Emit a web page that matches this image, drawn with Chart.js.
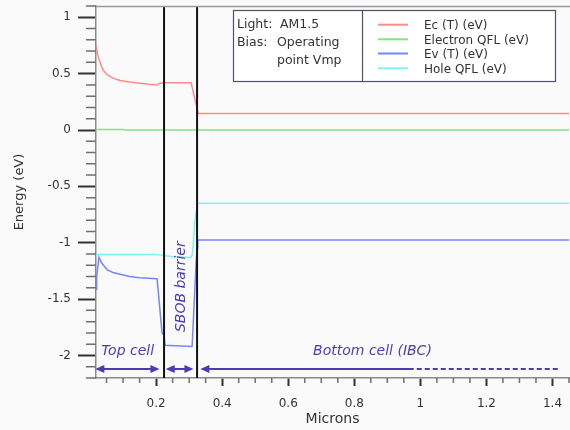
<!DOCTYPE html>
<html>
<head>
<meta charset="utf-8">
<script src="https://cdn.jsdelivr.net/npm/chart.js@4.4.1/dist/chart.umd.min.js"></script>
<style>
html, body { margin:0; padding:0; background:#fafafa; }
#wrap { width:570px; height:430px; }
</style>
</head>
<body>
<div id="wrap"><canvas id="bandChart" width="570" height="430"></canvas></div>
<script>
/* ================= DATA ================= */

// conduction band edge
const ecX = [0.018, 0.022, 0.026, 0.03, 0.04, 0.052, 0.07, 0.091, 0.12, 0.15, 0.18, 0.203, 0.212, 0.22, 0.306, 0.324, 0.327, 1.45];
const ecY = [0.76, 0.68, 0.64, 0.60, 0.53, 0.49, 0.46, 0.44, 0.425, 0.415, 0.405, 0.40, 0.415, 0.42, 0.42, 0.19, 0.147, 0.147];

// electron quasi fermi level
const efnX = [0.018, 0.10, 0.105, 1.45];
const efnY = [0.005, 0.005, 0.0, 0.0];

// valence band edge
const evX = [0.018, 0.019, 0.021, 0.027, 0.035, 0.052, 0.07, 0.091, 0.12, 0.15, 0.203, 0.218, 0.224, 0.227, 0.309, 0.321, 0.324, 0.326, 1.45];
const evY = [-1.30, -1.42, -1.30, -1.13, -1.18, -1.24, -1.265, -1.28, -1.30, -1.31, -1.32, -1.80, -1.82, -1.91, -1.92, -1.18, -1.05, -0.975, -0.975];

// hole quasi fermi level
const efpX = [0.018, 0.20, 0.215, 0.25, 0.305, 0.31, 0.318, 0.325, 1.45];
const efpY = [-1.105, -1.105, -1.11, -1.125, -1.13, -1.10, -0.80, -0.65, -0.65];

// layer interfaces
const interfaceX = [0.224, 0.324];

const seriesLabels = ["Ec (T) (eV)", "Electron QFL (eV)", "Ev (T) (eV)", "Hole QFL (eV)"];
const seriesColors = ["#ff8a8a", "#7ee87e", "#7486ff", "#7ef2f2"];

const xRange = [0.018, 1.45];
const yRange = [-2.2, 1.1];
const xMajorStep = 0.2, xMinorStep = 0.05;
const yMajorStep = 0.5, yMinorStep = 0.1;

/* ================= HELPERS ================= */

function toPoints(xs, ys) {
    return xs.map((x, i) => ({ x, y: ys[i] }));
}

function isMajor(v, step) {
    const r = v / step;
    return Math.abs(r - Math.round(r)) < 1e-6;
}

function fmt(v) {
    return String(Math.round(v * 10) / 10);
}

function noPad(s) {
    s.paddingTop = 0;
    s.paddingBottom = 0;
    s.paddingLeft = 0;
    s.paddingRight = 0;
}

const annotationColor = "#4d3bb3";

/* ================= PLUGINS ================= */

const background = {
    id: "background",
    beforeDraw(chart) {
        const ctx = chart.ctx;
        ctx.save();
        ctx.fillStyle = "#fafafa";
        ctx.fillRect(0, 0, chart.width, chart.height);
        ctx.restore();
    }
};

const axisExtras = {
    id: "axisExtras",
    afterDraw(chart) {
        const ctx = chart.ctx;
        const { x, y } = chart.scales;
        const area = chart.chartArea;
        ctx.save();

        // top frame line
        ctx.strokeStyle = "#9a9a9a";
        ctx.lineWidth = 1.5;
        ctx.beginPath();
        ctx.moveTo(area.left, area.top + 0.5);
        ctx.lineTo(chart.width, area.top + 0.5);
        ctx.stroke();

        // minor ticks
        ctx.strokeStyle = "#707070";
        ctx.lineWidth = 1.5;
        ctx.beginPath();
        y.ticks.forEach(t => {
            if (isMajor(t.value, yMajorStep)) return;
            const py = y.getPixelForValue(t.value);
            ctx.moveTo(area.left - 10, py);
            ctx.lineTo(area.left, py);
        });
        x.ticks.forEach(t => {
            if (isMajor(t.value, xMajorStep)) return;
            const px = x.getPixelForValue(t.value);
            ctx.moveTo(px, area.bottom);
            ctx.lineTo(px, area.bottom + 5);
        });
        ctx.stroke();
        ctx.restore();
    }
};

function arrowHead(ctx, px, py, dir) {
    ctx.beginPath();
    ctx.moveTo(px, py);
    ctx.lineTo(px - dir * 9, py - 4);
    ctx.lineTo(px - dir * 9, py + 4);
    ctx.closePath();
    ctx.fill();
}

const regionNotes = {
    id: "regionNotes",
    afterDatasetsDraw(chart) {
        const ctx = chart.ctx;
        const { x, y } = chart.scales;
        const ay = y.getPixelForValue(-2.12);
        ctx.save();
        ctx.strokeStyle = annotationColor;
        ctx.fillStyle = annotationColor;
        ctx.lineWidth = 2;

        // double arrows: top cell, barrier
        [[0.016, 0.21], [0.229, 0.313]].forEach(([a, b]) => {
            const pa = x.getPixelForValue(a), pb = x.getPixelForValue(b);
            ctx.beginPath();
            ctx.moveTo(pa + 4, ay);
            ctx.lineTo(pb - 4, ay);
            ctx.stroke();
            arrowHead(ctx, pa, ay, -1);
            arrowHead(ctx, pb, ay, 1);
        });

        // bottom cell arrow, solid then dashed
        const p0 = x.getPixelForValue(0.334);
        const p1 = x.getPixelForValue(0.98);
        const p2 = x.getPixelForValue(1.42);
        ctx.beginPath();
        ctx.moveTo(p0 + 4, ay);
        ctx.lineTo(p1, ay);
        ctx.stroke();
        arrowHead(ctx, p0, ay, -1);
        ctx.setLineDash([5, 3]);
        ctx.beginPath();
        ctx.moveTo(p1 + 3, ay);
        ctx.lineTo(p2, ay);
        ctx.stroke();
        ctx.setLineDash([]);

        // labels
        ctx.font = "italic 14px 'DejaVu Sans'";
        ctx.textAlign = "center";
        ctx.textBaseline = "middle";
        ctx.fillText("Top cell", x.getPixelForValue(0.114), y.getPixelForValue(-1.965));
        ctx.fillText("Bottom cell (IBC)", x.getPixelForValue(0.855), y.getPixelForValue(-1.965));

        ctx.translate(x.getPixelForValue(0.276), y.getPixelForValue(-1.39));
        ctx.rotate(-Math.PI / 2);
        ctx.fillText("SBOB barrier", 0, 0);
        ctx.restore();
    }
};

const legendBox = {
    id: "legendBox",
    afterDraw(chart) {
        const ctx = chart.ctx;
        ctx.save();
        ctx.fillStyle = "#ffffff";
        ctx.fillRect(233.5, 10.5, 322, 71);
        ctx.strokeStyle = "#50506a";
        ctx.lineWidth = 1.2;
        ctx.strokeRect(233.5, 10.5, 322, 71);
        ctx.beginPath();
        ctx.moveTo(362.5, 10.5);
        ctx.lineTo(362.5, 81.5);
        ctx.stroke();

        ctx.fillStyle = "#333";
        ctx.font = "12.5px 'DejaVu Sans'";
        ctx.textAlign = "left";
        ctx.textBaseline = "alphabetic";
        ctx.fillText("Light:", 237, 28);
        ctx.fillText("AM1.5", 280, 28);
        ctx.fillText("Bias:", 237, 46);
        ctx.fillText("Operating", 277, 46);
        ctx.fillText("point Vmp", 277, 63.5);

        ctx.font = "12px 'DejaVu Sans'";
        const rows = [24.7, 39.3, 53.5, 68.3];
        seriesLabels.forEach((lab, i) => {
            ctx.strokeStyle = seriesColors[i];
            ctx.lineWidth = 2;
            ctx.beginPath();
            ctx.moveTo(378, rows[i]);
            ctx.lineTo(408, rows[i]);
            ctx.stroke();
            ctx.fillText(lab, 424, rows[i] + 4.5);
        });
        ctx.restore();
    }
};

/* ================= CHART ================= */

Chart.defaults.font.family = "'DejaVu Sans'";
Chart.defaults.color = "#333";

const bandDatasets = [
    { label: "iface1", data: toPoints([interfaceX[0], interfaceX[0]], yRange), borderColor: "#111", borderWidth: 2, order: 0 },
    { label: "iface2", data: toPoints([interfaceX[1], interfaceX[1]], yRange), borderColor: "#111", borderWidth: 2, order: 0 },
    { label: seriesLabels[0], data: toPoints(ecX, ecY), borderColor: seriesColors[0], borderWidth: 1.5, order: 1 },
    { label: seriesLabels[1], data: toPoints(efnX, efnY), borderColor: seriesColors[1], borderWidth: 1.5, order: 1 },
    { label: seriesLabels[2], data: toPoints(evX, evY), borderColor: seriesColors[2], borderWidth: 1.5, order: 1 },
    { label: seriesLabels[3], data: toPoints(efpX, efpY), borderColor: seriesColors[3], borderWidth: 1.5, order: 1 }
].map(d => Object.assign(d, { showLine: true, pointRadius: 0, tension: 0, fill: false }));

new Chart(document.getElementById("bandChart"), {
    type: "scatter",
    data: { datasets: bandDatasets },
    plugins: [background, axisExtras, regionNotes, legendBox],
    options: {
        responsive: false,
        animation: false,
        layout: { padding: { top: 6, right: 1, left: 0, bottom: 0 } },
        plugins: { legend: { display: false }, tooltip: { enabled: false } },
        scales: {
            x: {
                type: "linear",
                min: xRange[0], max: xRange[1],
                afterFit: s => { s.height = 52; noPad(s); },
                border: { display: true, color: "#8a8a8a", width: 1.5 },
                grid: {
                    drawOnChartArea: false, drawTicks: true, tickLength: 8,
                    tickColor: c => isMajor(c.tick.value, xMajorStep) ? "#333" : "rgba(0,0,0,0)",
                    tickWidth: 2
                },
                ticks: {
                    stepSize: xMinorStep, includeBounds: false, autoSkip: false,
                    maxRotation: 0, padding: 11, font: { size: 12 }, color: "#333",
                    callback: v => isMajor(v, xMajorStep) ? fmt(v) : ""
                },
                title: { display: true, text: "Microns", font: { size: 14 }, color: "#333", padding: { top: 0, bottom: 2 } }
            },
            y: {
                type: "linear",
                min: yRange[0], max: yRange[1],
                afterFit: s => { s.width = 96; noPad(s); },
                border: { display: true, color: "#8a8a8a", width: 1.5 },
                grid: {
                    drawOnChartArea: false, drawTicks: true, tickLength: 18,
                    tickColor: c => isMajor(c.tick.value, yMajorStep) ? "#333" : "rgba(0,0,0,0)",
                    tickWidth: 2
                },
                ticks: {
                    stepSize: yMinorStep, includeBounds: false, autoSkip: false,
                    padding: 7, font: { size: 12 }, color: "#333",
                    callback: v => isMajor(v, yMajorStep) ? fmt(v) : ""
                },
                title: { display: true, text: "Energy (eV)", font: { size: 13 }, color: "#333", padding: { top: 12, bottom: 0 } }
            }
        }
    }
});
</script>
</body>
</html>
